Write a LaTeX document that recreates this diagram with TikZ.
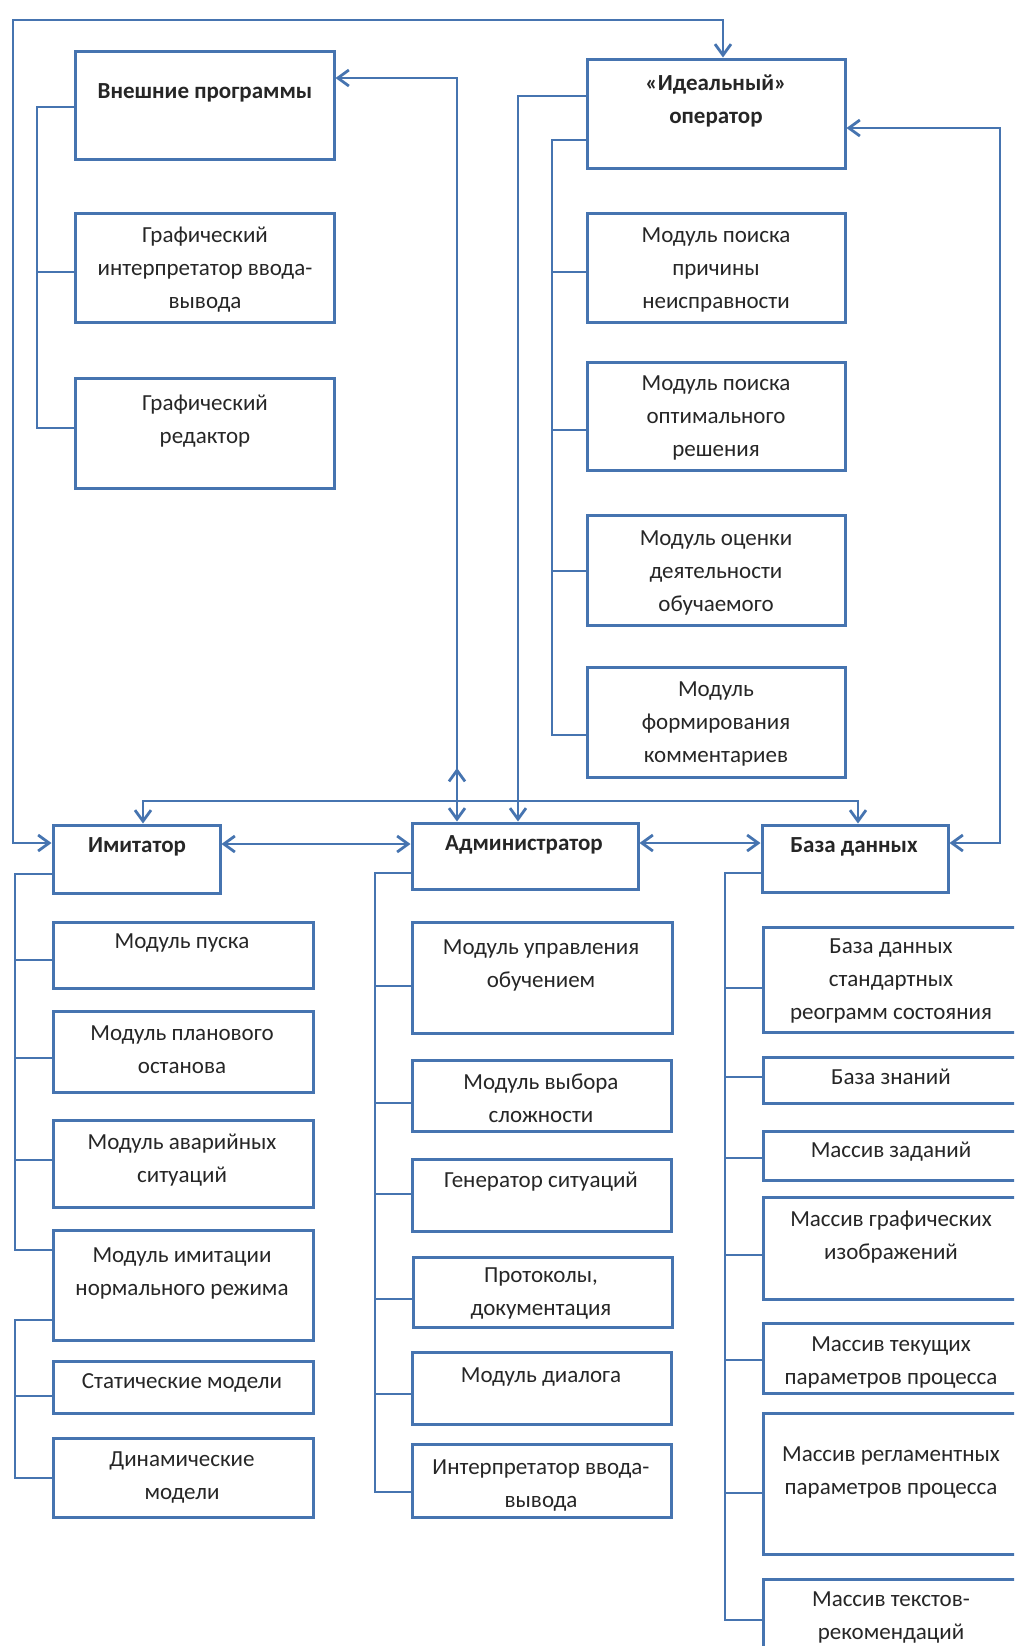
\documentclass[tikz,border=0pt]{standalone}
\usepackage{fontspec}
\setmainfont{Carlito}
\usetikzlibrary{arrows.meta,fit}
\definecolor{ln}{RGB}{70,116,176}
\begin{document}
\begin{tikzpicture}[x=0.5pt,y=-0.5pt,
  box/.style={draw=ln,line width=1.5pt,inner sep=0pt,rectangle},
  txt/.style={align=center,font=\fontsize{11.5pt}{16.5pt}\selectfont,inner sep=0pt,text=black!85},
  btxt/.style={txt,font=\fontsize{11.5pt}{16.5pt}\selectfont\bfseries},
  con/.style={draw=ln,line width=1.45pt},
  arr/.style={con,-{Straight Barb[length=5.5pt,width=8pt,line width=1.4pt]}},
  darr/.style={con,{Straight Barb[length=5.5pt,width=8pt,line width=1.4pt]}-{Straight Barb[length=5.5pt,width=8pt,line width=1.4pt]}}
]
\useasboundingbox (0,0) rectangle (1014,1646);
\begin{scope}
\clip (0,0) rectangle (1014,1646);
% ---------- boxes ----------
\node[box,fit={(75,51) (334,159)}] (ext) {};
\node[box,fit={(75,213) (334,322)}] (gint) {};
\node[box,fit={(75,378) (334,488)}] (ged) {};
\node[box,fit={(587,59) (845,168)}] (ideal) {};
\node[box,fit={(587,213) (845,322)}] (m1) {};
\node[box,fit={(587,362) (845,470)}] (m2) {};
\node[box,fit={(587,515) (845,625)}] (m3) {};
\node[box,fit={(587,667) (845,777)}] (m4) {};
\node[box,fit={(53,825) (220,893)}] (imit) {};
\node[box,fit={(412,823) (638,889)}] (admin) {};
\node[box,fit={(762,825) (948,892)}] (db) {};
% imitator children
\node[box,fit={(53,922) (313,988)}] (i1) {};
\node[box,fit={(53,1011) (313,1092)}] (i2) {};
\node[box,fit={(53,1120) (313,1207)}] (i3) {};
\node[box,fit={(53,1230) (313,1340)}] (i4) {};
\node[box,fit={(53,1361) (313,1413)}] (i5) {};
\node[box,fit={(53,1438) (313,1517)}] (i6) {};
% administrator children
\node[box,fit={(412,922) (672,1033)}] (a1) {};
\node[box,fit={(412,1060) (671,1131)}] (a2) {};
\node[box,fit={(412,1159) (671,1231)}] (a3) {};
\node[box,fit={(413,1257) (672,1327)}] (a4) {};
\node[box,fit={(412,1352) (671,1424)}] (a5) {};
\node[box,fit={(412,1444) (671,1517)}] (a6) {};
% database children
\node[box,fit={(763,927) (1020,1032)}] (d1) {};
\node[box,fit={(763,1057) (1020,1103)}] (d2) {};
\node[box,fit={(763,1131) (1020,1180)}] (d3) {};
\node[box,fit={(763,1197) (1020,1299)}] (d4) {};
\node[box,fit={(763,1323) (1020,1393)}] (d5) {};
\node[box,fit={(763,1413) (1020,1554)}] (d6) {};
\node[box,fit={(763,1579) (1020,1670)}] (d7) {};
% ---------- texts ----------
\node[btxt] (ext-t) at (205,93) {Внешние программы};
\node[txt] (gint-t) at (205,270) {Графический\\интерпретатор ввода-\\вывода};
\node[txt] (ged-t) at (205,421) {Графический\\редактор};
\node[btxt] (ideal-t) at (716,101) {«Идеальный»\\оператор};
\node[txt] (m1-t) at (716,270) {Модуль поиска\\причины\\неисправности};
\node[txt] (m2-t) at (716,418) {Модуль поиска\\оптимального\\решения};
\node[txt] (m3-t) at (716,573) {Модуль оценки\\деятельности\\обучаемого};
\node[txt] (m4-t) at (716,724) {Модуль\\формирования\\комментариев};
\node[btxt] (imit-t) at (137,847) {Имитатор};
\node[btxt] (admin-t) at (524,845) {Администратор};
\node[btxt] (db-t) at (854,847) {База данных};
\node[txt] (i1-t) at (182,943) {Модуль пуска};
\node[txt] (i2-t) at (182,1050) {Модуль планового\\останова};
\node[txt] (i3-t) at (182,1160) {Модуль аварийных\\ситуаций};
\node[txt] (i4-t) at (182,1273) {Модуль имитации\\нормального режима};
\node[txt] (i5-t) at (182,1383) {Статические модели};
\node[txt] (i6-t) at (182,1477) {Динамические\\модели};
\node[txt] (a1-t) at (541,965) {Модуль управления\\обучением};
\node[txt] (a2-t) at (541,1098) {Модуль выбора\\сложности};
\node[txt] (a3-t) at (541,1182) {Генератор ситуаций};
\node[txt] (a4-t) at (541,1293) {Протоколы,\\документация};
\node[txt] (a5-t) at (541,1377) {Модуль диалога};
\node[txt] (a6-t) at (541,1485) {Интерпретатор ввода-\\вывода};
\node[txt] (d1-t) at (891,981) {База данных\\стандартных\\реограмм состояния};
\node[txt] (d2-t) at (891,1077) {База знаний};
\node[txt] (d3-t) at (891,1152) {Массив заданий};
\node[txt] (d4-t) at (891,1237) {Массив графических\\изображений};
\node[txt] (d5-t) at (891,1362) {Массив текущих\\параметров процесса};
\node[txt] (d6-t) at (891,1472) {Массив регламентных\\параметров процесса};
\node[txt] (d7-t) at (891,1617) {Массив текстов-\\рекомендаций};
% ---------- connectors ----------
% outer loop Imitator <-> Ideal operator
\draw[darr] (imit.west |- 0,843) -- (13,843) -- (13,20) -- (723,20) -- (ideal.north -| 723,0);
% External programs <-> Administrator
\draw[darr] (ext.east |- 0,78) -- (457,78) -- (admin.north -| 457,0);
\draw[arr] (457,801) -- (457,768);
% Ideal operator -> Administrator
\draw[arr] (ideal.west |- 0,96) -- (518,96) -- (admin.north -| 518,0);
% horizontal distribution line
\draw[darr] (imit.north -| 143,0) -- (143,801) -- (858,801) -- (db.north -| 858,0);
% Database <-> Ideal operator
\draw[darr] (db.east |- 0,843) -- (1000,843) -- (1000,128) -- (ideal.east |- 0,128);
% horizontal links
\draw[darr] (imit.east |- 0,844) -- (admin.west |- 0,844);
\draw[darr] (admin.east |- 0,843) -- (db.west |- 0,843);
% bracket: external programs
\draw[con] (ext.west |- 0,107) -- (37,107) -- (37,428) -- (ged.west |- 0,428);
\draw[con] (37,272) -- (gint.west |- 0,272);
% bracket: ideal operator
\draw[con] (ideal.west |- 0,140) -- (552,140) -- (552,735) -- (m4.west |- 0,735);
\draw[con] (552,272) -- (m1.west |- 0,272);
\draw[con] (552,430) -- (m2.west |- 0,430);
\draw[con] (552,571) -- (m3.west |- 0,571);
% bracket: imitator
\draw[con] (imit.west |- 0,874) -- (15,874) -- (15,1250) -- (i4.west |- 0,1250);
\draw[con] (15,960) -- (i1.west |- 0,960);
\draw[con] (15,1058) -- (i2.west |- 0,1058);
\draw[con] (15,1160) -- (i3.west |- 0,1160);
\draw[con] (i4.west |- 0,1320) -- (15,1320) -- (15,1478) -- (i6.west |- 0,1478);
\draw[con] (15,1396) -- (i5.west |- 0,1396);
% bracket: administrator
\draw[con] (admin.west |- 0,873) -- (375,873) -- (375,1492) -- (a6.west |- 0,1492);
\draw[con] (375,986) -- (a1.west |- 0,986);
\draw[con] (375,1103) -- (a2.west |- 0,1103);
\draw[con] (375,1194) -- (a3.west |- 0,1194);
\draw[con] (375,1299) -- (a4.west |- 0,1299);
\draw[con] (375,1394) -- (a5.west |- 0,1394);
% bracket: database
\draw[con] (db.west |- 0,873) -- (725,873) -- (725,1620) -- (d7.west |- 0,1620);
\draw[con] (725,988) -- (d1.west |- 0,988);
\draw[con] (725,1077) -- (d2.west |- 0,1077);
\draw[con] (725,1158) -- (d3.west |- 0,1158);
\draw[con] (725,1255) -- (d4.west |- 0,1255);
\draw[con] (725,1360) -- (d5.west |- 0,1360);
\draw[con] (725,1493) -- (d6.west |- 0,1493);
\end{scope}
\end{tikzpicture}
\end{document}
